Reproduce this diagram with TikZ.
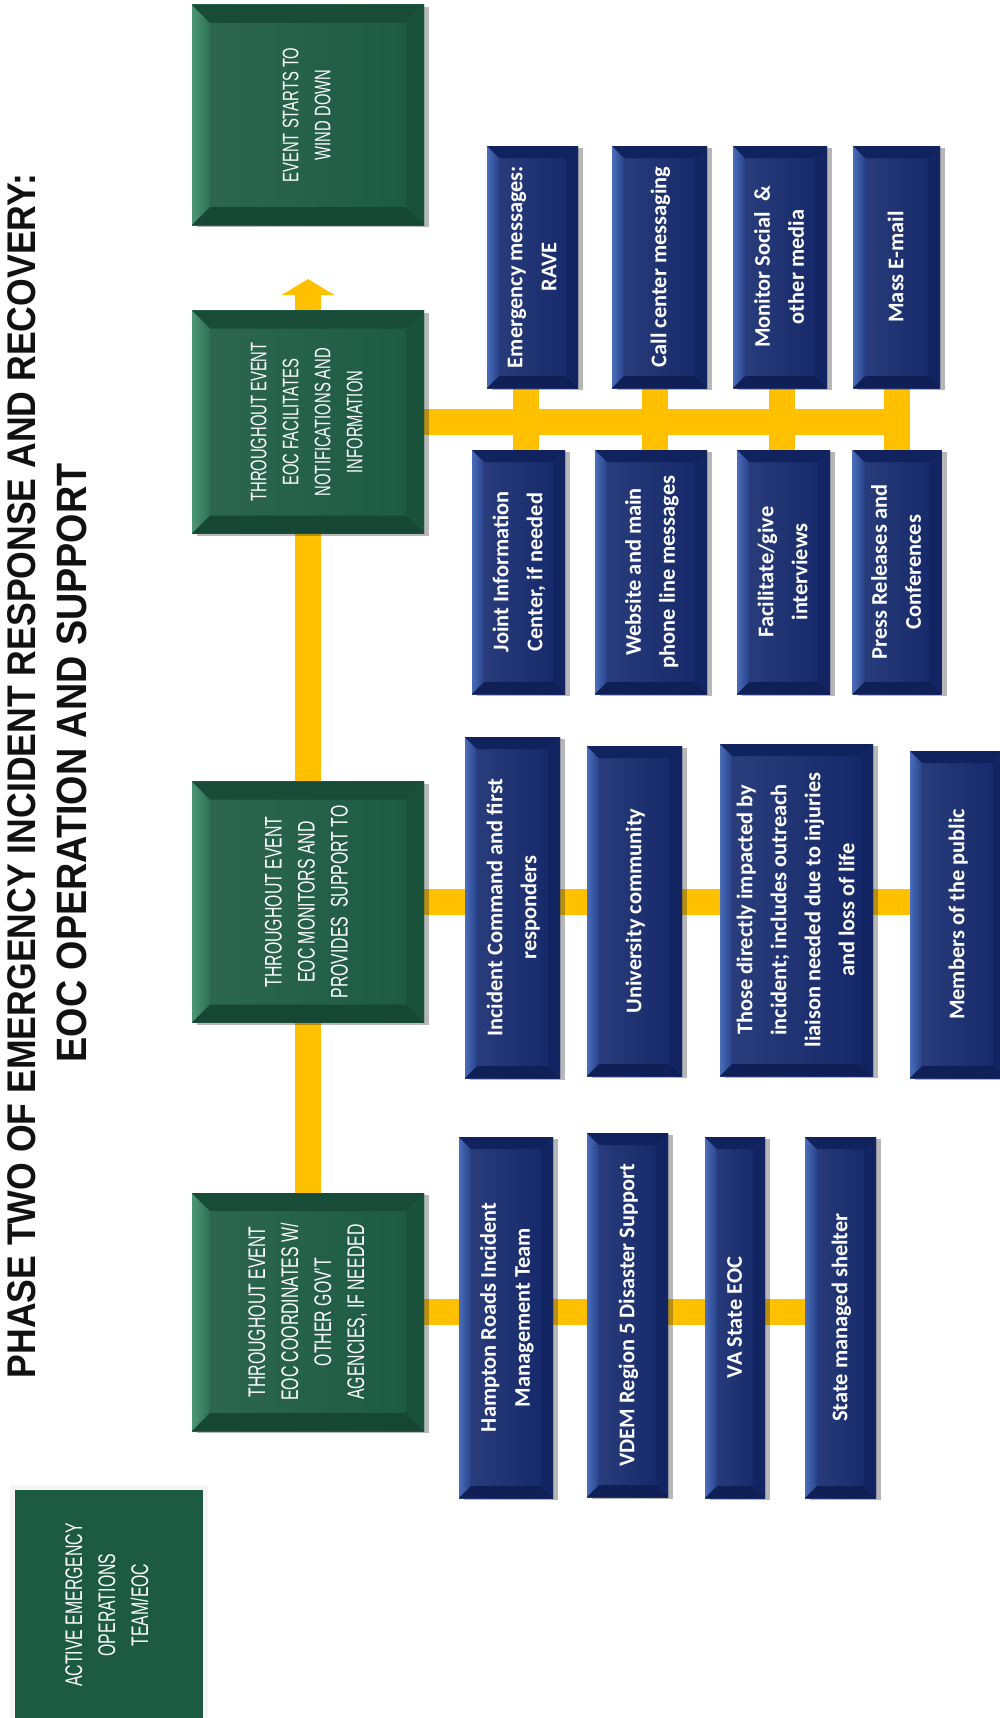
\documentclass[tikz,border=0pt]{standalone}
\usepackage{fontspec}
\usepackage{graphicx}
\usetikzlibrary{shadows,backgrounds,calc,arrows.meta}
\newfontfamily\gfam[FakeStretch=0.66]{Liberation Sans}
\newfontfamily\tfam[FakeStretch=0.89]{Liberation Sans}
\newfontfamily\bfam{Carlito}
\definecolor{gbase}{HTML}{1C5A42}
\definecolor{glight}{HTML}{4C9676}
\definecolor{bbase}{HTML}{14296E}
\definecolor{blight}{HTML}{4A6DBA}
\definecolor{gold}{HTML}{FFC000}
\definecolor{ttlcol}{HTML}{111111}
\newcommand{\gfont}{\gfam\fontsize{12}{16.5}\selectfont}
\newcommand{\gsmall}{\gfam\fontsize{11.2}{16}\selectfont}
\newcommand{\bfont}{\bfam\bfseries\fontsize{11.2}{17}\selectfont}
\newcommand{\vtxt}[2]{\rotatebox{90}{#1\begin{tabular}{@{}c@{}}#2\end{tabular}}}
\tikzset{
  dims/.style 2 args={minimum width=#1*0.5pt, minimum height=#2*0.5pt},
  bevel/.style n args={4}{path picture={
    \path (path picture bounding box.north west) coordinate (pNW)
          (path picture bounding box.north east) coordinate (pNE)
          (path picture bounding box.south west) coordinate (pSW)
          (path picture bounding box.south east) coordinate (pSE);
    \shade[left color=#2, right color=#2!35!#3] (pNW) -- (pSW) -- ([shift={(#1,#1)}]pSW) -- ([shift={(#1,-#1)}]pNW) -- cycle;
    \fill[#3!85!black] (pNW) -- (pNE) -- ([shift={(-#1,-#1)}]pNE) -- ([shift={(#1,-#1)}]pNW) -- cycle;
    \fill[#3!78!black] (pSW) -- (pSE) -- ([shift={(-#1,#1)}]pSE) -- ([shift={(#1,#1)}]pSW) -- cycle;
    \fill[#4] (pNE) -- (pSE) -- ([shift={(-#1,#1)}]pSE) -- ([shift={(-#1,-#1)}]pNE) -- cycle;
  }},
  boxshadow/.style={drop shadow={shadow xshift=2.5pt, shadow yshift=-1.2pt, opacity=.35, fill=black!80}},
  gbox/.style={inner sep=0pt, outer sep=0pt, text=white, left color=gbase!92!white, right color=gbase,
    boxshadow, bevel={9pt}{glight}{gbase}{gbase!90!black}},
  bbox/.style={inner sep=0pt, outer sep=0pt, text=white, left color=bbase!90!white, right color=bbase!95!black,
    boxshadow, bevel={6pt}{blight}{bbase}{bbase!88!black}},
  abox/.style={inner sep=0pt, outer sep=0pt, text=white, fill=gbase, draw=white!96!black, line width=2.5pt,
    drop shadow={shadow xshift=1.5pt, shadow yshift=-1.5pt, opacity=.3, fill=black!80}},
  ttl/.style={inner sep=0pt, text=ttlcol, rotate=90},
  conn/.style={draw=gold, line width=13pt},
  tipend/.style={-{Triangle[width=26pt,length=8pt]}}
}
\begin{document}
\begin{tikzpicture}[x=0.5pt, y=-0.5pt]
\useasboundingbox (0,0) rectangle (1000,1718);

% title
\node[ttl, font=\tfam\bfseries\fontsize{20}{24}\selectfont] (title1) at (22,776) {PHASE TWO OF EMERGENCY INCIDENT RESPONSE AND RECOVERY:};
\node[ttl, font=\tfam\bfseries\fontsize{21.2}{24}\selectfont] (title2) at (72,763) {EOC OPERATION AND SUPPORT};

% active team box
\node[abox, dims={193}{235}] (active) at (108.5,1605) {\vtxt{\gfont}{ACTIVE EMERGENCY\\OPERATIONS\\TEAM/EOC}};

% green phase boxes
\node[gbox, dims={232}{220}] (g4) at (308,115) {\vtxt{\gsmall}{EVENT STARTS TO\\WIND DOWN}};
\node[gbox, dims={232}{223}] (g3) at (308,422) {\vtxt{\gsmall}{THROUGHOUT EVENT\\EOC FACILITATES\\NOTIFICATIONS AND\\INFORMATION}};
\node[gbox, dims={232}{241}] (g2) at (308,902) {\vtxt{\gfont}{THROUGHOUT EVENT\\EOC MONITORS AND\\PROVIDES\ \ SUPPORT TO}};
\node[gbox, dims={232}{238}] (g1) at (308,1312) {\vtxt{\gfont}{THROUGHOUT EVENT\\EOC COORDINATES W/\\OTHER GOV’T\\AGENCIES, IF NEEDED}};

% notifications group (top row / bottom row)
\node[bbox, dims={91}{242}] (rave) at (532.5,267) {\vtxt{\bfont}{Emergency messages:\\RAVE}};
\node[bbox, dims={95}{242}] (call) at (659.5,267) {\vtxt{\bfont}{Call center messaging}};
\node[bbox, dims={94}{242}] (monitor) at (780,267) {\vtxt{\bfont}{Monitor Social\ \ \&\\other media}};
\node[bbox, dims={87}{242}] (mass) at (896.5,267) {\vtxt{\bfont}{Mass E-mail}};
\node[bbox, dims={93}{244}] (joint) at (518.5,572) {\vtxt{\bfont}{Joint Information\\Center, if needed}};
\node[bbox, dims={112}{244}] (website) at (651,572) {\vtxt{\bfont}{Website and main\\phone line messages}};
\node[bbox, dims={93}{244}] (facilitate) at (783.5,572) {\vtxt{\bfont}{Facilitate/give\\interviews}};
\node[bbox, dims={89}{244}] (press) at (897,572) {\vtxt{\bfont}{Press Releases and\\Conferences}};

% support group
\node[bbox, dims={95}{341}] (incident) at (512.5,907.5) {\vtxt{\bfont}{Incident Command and first\\responders}};
\node[bbox, dims={95}{330}] (university) at (634.5,911) {\vtxt{\bfont}{University community}};
\node[bbox, dims={153}{332}] (those) at (796.5,910) {\vtxt{\bfont}{Those directly impacted by\\incident; includes outreach\\liaison needed due to injuries\\and loss of life}};
\node[bbox, dims={95}{327}] (members) at (957.5,914.5) {\vtxt{\bfont}{Members of the public}};

% coordination group
\node[bbox, dims={94}{361}] (hampton) at (506,1317.5) {\vtxt{\bfont}{Hampton Roads Incident\\Management Team}};
\node[bbox, dims={81}{364}] (vdem) at (627.5,1315) {\vtxt{\bfont}{VDEM Region 5 Disaster Support}};
\node[bbox, dims={60}{361}] (vastate) at (735,1317.5) {\vtxt{\bfont}{VA State EOC}};
\node[bbox, dims={71}{361}] (shelter) at (840.5,1317.5) {\vtxt{\bfont}{State managed shelter}};

% stub coordinates
\coordinate (s1) at ($(rave)!0.5!(joint)$);
\coordinate (s2) at ($(call)!0.5!(website)$);
\coordinate (s3) at ($(monitor)!0.5!(facilitate)$);
\coordinate (s4) at ($(mass)!0.5!(press)$);
\coordinate (tip) at (308,279);

\begin{scope}[on background layer]
  \fill[white] (0,0) rectangle (1000,1718);
  % trunk
  \draw[conn] (g1) -- (g2) -- (g3);
  \draw[conn, tipend] (g3.north) -- (tip);
  % bars
  \draw[conn] (g3) -- (s4 |- g3);
  \draw[conn] (s1 |- rave) -- (s1 |- joint);
  \draw[conn] (s2 |- call) -- (s2 |- website);
  \draw[conn] (s3 |- monitor) -- (s3 |- facilitate);
  \draw[conn] (s4 |- mass) -- (s4 |- press);
  \draw[conn] (g2) -- (g2 -| members);
  \draw[conn] (g1) -- (g1 -| shelter);
\end{scope}
\end{tikzpicture}
\end{document}
